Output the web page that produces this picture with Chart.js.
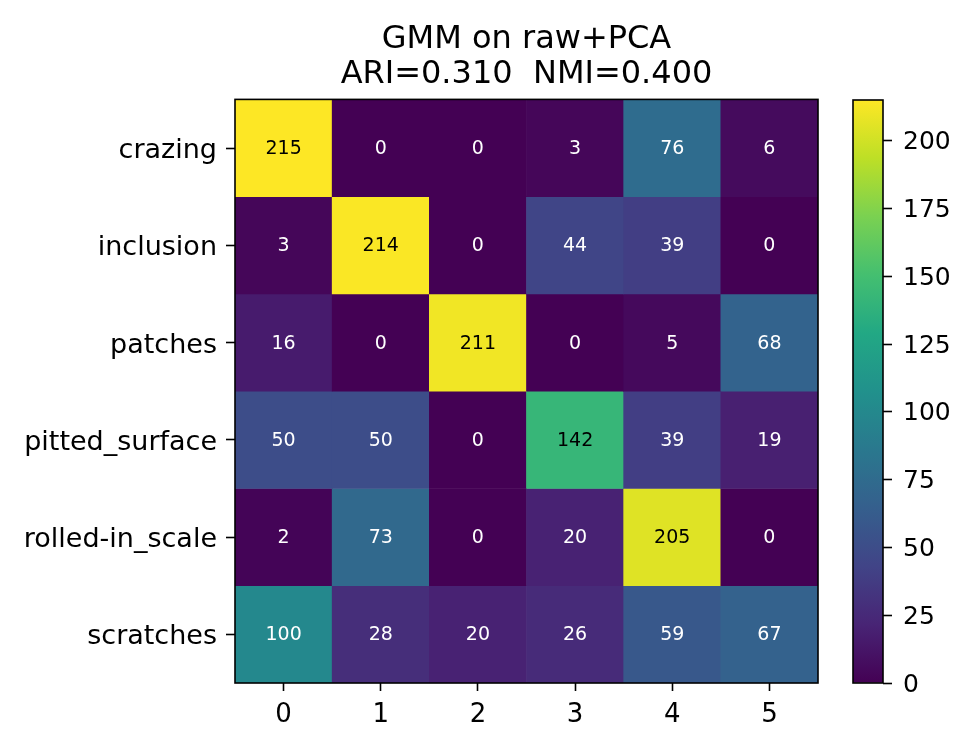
<!DOCTYPE html>
<html>
<head>
<meta charset="utf-8">
<script src="https://cdn.jsdelivr.net/npm/chart.js@4.4.1/dist/chart.umd.min.js"></script>
<style>
  body { margin: 0; background: #fff; }
  #wrap { position: relative; width: 971px; height: 748px; }
  #heat { position: absolute; left: 0; top: 0; }
  #cbar { position: absolute; left: 840px; top: 0; }
</style>
</head>
<body>
<div id="wrap">
  <canvas id="heat" width="830" height="748"></canvas>
  <canvas id="cbar" width="131" height="748"></canvas>
</div>
<script>
// data
const rowLabels = ['crazing', 'inclusion', 'patches', 'pitted_surface', 'rolled-in_scale', 'scratches'];
const colLabels = ['0', '1', '2', '3', '4', '5'];
const counts = [
    [215, 0, 0, 3, 76, 6],
    [3, 214, 0, 44, 39, 0],
    [16, 0, 211, 0, 5, 68],
    [50, 50, 0, 142, 39, 19],
    [2, 73, 0, 20, 205, 0],
    [100, 28, 20, 26, 59, 67]
];
const colorbarTicks = [0, 25, 50, 75, 100, 125, 150, 175, 200];
const titleLines = ['GMM on raw+PCA', 'ARI=0.310  NMI=0.400'];

const FONT = 'DejaVu Sans';
const vmax = Math.max(...counts.flat());
const vmin = Math.min(...counts.flat());

// viridis colormap stops
const viridisStops = ['#440154', '#482475', '#414487', '#355f8d', '#2a788e', '#21918c',
    '#22a884', '#44bf70', '#7ad151', '#bddf26', '#fde725'];

function hexToRgb(h) {
    return [parseInt(h.slice(1, 3), 16), parseInt(h.slice(3, 5), 16), parseInt(h.slice(5, 7), 16)];
}

function viridis(t) {
    t = Math.min(1, Math.max(0, t));
    const pos = t * (viridisStops.length - 1);
    const i = Math.min(Math.floor(pos), viridisStops.length - 2);
    const f = pos - i;
    const a = hexToRgb(viridisStops[i]);
    const b = hexToRgb(viridisStops[i + 1]);
    const c = a.map((v, k) => Math.round(v + (b[k] - v) * f));
    return 'rgb(' + c.join(',') + ')';
}

const rowCenters = rowLabels.map((_, i) => i + 0.5);

// frame around the plot area
const framePlugin = {
    id: 'frame',
    afterDatasetsDraw(chart) {
        const { ctx, chartArea } = chart;
        ctx.save();
        ctx.strokeStyle = '#000';
        ctx.lineWidth = 1.6;
        ctx.strokeRect(chartArea.left, chartArea.top, chartArea.width, chartArea.height);
        ctx.restore();
    }
};

// value written in every cell
const cellTextPlugin = {
    id: 'cellText',
    afterDatasetsDraw(chart) {
        const { ctx, scales } = chart;
        const thresh = (vmax + vmin) / 2;
        ctx.save();
        ctx.font = '19px "' + FONT + '"';
        ctx.textAlign = 'center';
        ctx.textBaseline = 'middle';
        counts.forEach((row, i) => {
            row.forEach((v, j) => {
                ctx.fillStyle = v > thresh ? '#000' : '#fff';
                ctx.fillText(String(v), scales.x.getPixelForValue(j), scales.y.getPixelForValue(i + 0.5) + 1);
            });
        });
        ctx.restore();
    }
};

new Chart(document.getElementById('heat').getContext('2d'), {
    type: 'bar',
    data: {
        labels: colLabels,
        datasets: rowLabels.map((name, i) => ({
            label: name,
            data: colLabels.map(() => [i, i + 1]),
            backgroundColor: counts[i].map(v => viridis((v - vmin) / (vmax - vmin))),
            borderWidth: 0,
            barPercentage: 1,
            categoryPercentage: 1,
            grouped: false
        }))
    },
    options: {
        responsive: false,
        animation: false,
        layout: { padding: { left: 0, right: 12, top: 0, bottom: 0 } },
        plugins: {
            legend: { display: false },
            tooltip: { enabled: false },
            title: {
                display: true,
                text: titleLines,
                fullSize: false,
                color: '#000',
                font: { family: FONT, size: 32, weight: 'normal', lineHeight: 1.1 },
                padding: { top: 22, bottom: 7 }
            }
        },
        scales: {
            x: {
                type: 'category',
                offset: true,
                grid: { offset: false, drawOnChartArea: false, drawTicks: true, tickLength: 8, tickWidth: 1.6, tickColor: '#000' },
                border: { display: false },
                ticks: { color: '#000', padding: 9, maxRotation: 0, font: { family: FONT, size: 26 } },
                afterFit(scale) { scale.height = 65; }
            },
            y: {
                type: 'linear',
                min: 0,
                max: rowLabels.length,
                reverse: true,
                grid: { drawOnChartArea: false, drawTicks: true, tickLength: 9, tickWidth: 1.6, tickColor: '#000' },
                border: { display: false },
                afterBuildTicks(scale) { scale.ticks = rowCenters.map(v => ({ value: v })); },
                ticks: {
                    color: '#000',
                    padding: 9,
                    labelOffset: 3,
                    font: { family: FONT, size: 27 },
                    callback: v => rowLabels[Math.floor(v)]
                },
                afterFit(scale) { scale.width = 235; }
            }
        }
    },
    plugins: [framePlugin, cellTextPlugin]
});

// colour bar
new Chart(document.getElementById('cbar').getContext('2d'), {
    type: 'bar',
    data: {
        labels: [''],
        datasets: [{
            data: [[vmin, vmax]],
            barPercentage: 1,
            categoryPercentage: 1,
            borderWidth: 0,
            backgroundColor(c) {
                const chart = c.chart;
                if (!chart.chartArea) return viridisStops[0];
                const y = chart.scales.y;
                const g = chart.ctx.createLinearGradient(0, y.getPixelForValue(vmin), 0, y.getPixelForValue(vmax));
                viridisStops.forEach((col, k) => g.addColorStop(k / (viridisStops.length - 1), col));
                return g;
            }
        }]
    },
    options: {
        responsive: false,
        animation: false,
        layout: { padding: { left: 13, right: 0, top: 100, bottom: 65 } },
        plugins: { legend: { display: false }, tooltip: { enabled: false } },
        scales: {
            x: { display: false },
            y: {
                position: 'right',
                min: vmin,
                max: vmax,
                grid: { drawOnChartArea: false, drawTicks: true, tickLength: 9, tickWidth: 1.6, tickColor: '#000' },
                border: { display: false },
                afterBuildTicks(scale) { scale.ticks = colorbarTicks.map(v => ({ value: v })); },
                ticks: { color: '#000', padding: 11, labelOffset: 2, font: { family: FONT, size: 25 } },
                afterFit(scale) { scale.width = 88; }
            }
        }
    },
    plugins: [framePlugin]
});
</script>
</body>
</html>
